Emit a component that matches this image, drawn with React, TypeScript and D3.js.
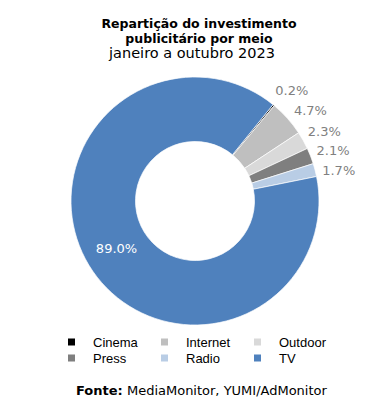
import { useEffect, useRef } from 'react'
import * as d3 from 'd3'

const categories = ['Cinema', 'Internet', 'Outdoor', 'Press', 'Radio', 'TV']
const shares = [0.2, 4.7, 2.3, 2.1, 1.7, 89.0]
const colors = ['#000000', '#bfbfbf', '#d9d9d9', '#7f7f7f', '#b9cde5', '#4f81bd']
const titleLines = ['Repartição do investimento', 'publicitário por meio']
const subtitle = 'janeiro a outubro 2023'

type Slice = { name: string; value: number; color: string }

export default () => {
  const rootRef = useRef<SVGSVGElement>(null)

  useEffect(() => {
    const width = 391,
      height = 406
    const cx = 195,
      cy = 201
    const outerR = 124,
      innerR = 59.5

    const data: Slice[] = categories.map((c, i) => ({ name: c, value: shares[i], color: colors[i] }))

    const svg = d3.select(rootRef.current).attr('width', width).attr('height', height)
    svg.selectAll('*').remove()

    const font = 'Verdana, "DejaVu Sans", sans-serif'

    // titles
    const title = svg.append('g').attr('text-anchor', 'middle').style('font-family', font)
    titleLines.forEach((t, i) => {
      title
        .append('text')
        .attr('x', 199)
        .attr('y', 27.5 + i * 15)
        .attr('font-weight', 'bold')
        .style('font-size', '12.5px')
        .text(t)
    })
    title.append('text').attr('x', 192).attr('y', 57.5).style('font-size', '14.5px').text(subtitle)

    // donut
    const startA = (39 * Math.PI) / 180
    const pie = d3
      .pie<Slice>()
      .value((d) => d.value)
      .sort(null)
      .startAngle(startA)
      .endAngle(startA + 2 * Math.PI)
    const arcs = pie(data)
    const arc = d3.arc<d3.PieArcDatum<Slice>>().innerRadius(innerR).outerRadius(outerR)

    const g = svg.append('g').attr('transform', `translate(${cx},${cy})`)
    g.selectAll('path')
      .data(arcs)
      .join('path')
      .attr('d', arc)
      .attr('fill', (d) => d.data.color)
      .attr('stroke', '#ffffff')
      .attr('stroke-width', 0.7)

    // outside labels for small slices
    const labelR = 143
    const small = arcs.filter((d) => d.data.value < 50)
    const pos = small.map((d) => {
      const a = (d.startAngle + d.endAngle) / 2
      return { d, x: labelR * Math.sin(a), y: -labelR * Math.cos(a) }
    })
    for (let i = 1; i < pos.length; i++) {
      if (pos[i].y - pos[i - 1].y < 19.5) pos[i].y = pos[i - 1].y + 19.5
    }
    // keep labels off the ring after shifting them down
    pos.forEach((p) => {
      const need = Math.sqrt(Math.max(0, (labelR + 4) ** 2 - p.y * p.y))
      if (p.x < need) p.x = need
    })
    g.selectAll('text.out')
      .data(pos)
      .join('text')
      .attr('class', 'out')
      .attr('x', (p) => p.x)
      .attr('y', (p) => p.y)
      .attr('dy', '0.35em')
      .attr('text-anchor', 'middle')
      .style('font-family', font)
      .style('font-size', '13px')
      .attr('fill', '#808080')
      .text((p) => p.d.data.value.toFixed(1) + '%')

    // big slice label inside
    const big = arcs.filter((d) => d.data.value >= 50)
    g.selectAll('text.in')
      .data(big)
      .join('text')
      .attr('class', 'in')
      .attr('transform', (d) => `translate(${arc.centroid(d)})`)
      .attr('dy', '0.35em')
      .attr('text-anchor', 'middle')
      .style('font-family', font)
      .style('font-size', '13px')
      .attr('fill', '#ffffff')
      .text((d) => d.data.value.toFixed(1) + '%')

    // legend
    const legend = svg.append('g').style('font-family', 'Arial, "Liberation Sans", sans-serif').style('font-size', '13px')
    const colX = [68, 161, 254]
    const rowY = [342, 358]
    data.forEach((d, i) => {
      const x = colX[i % 3]
      const y = rowY[Math.floor(i / 3)]
      legend.append('rect').attr('x', x).attr('y', y - 3.5).attr('width', 7).attr('height', 7).attr('fill', d.color)
      legend.append('text').attr('x', x + 25).attr('y', y).attr('dy', '0.35em').text(d.name)
    })

    // source
    const src = svg.append('text').attr('x', 76).attr('y', 395).style('font-family', font).style('font-size', '13px')
    src.append('tspan').attr('font-weight', 'bold').text('Fonte:')
    src.append('tspan').text(' MediaMonitor, YUMI/AdMonitor')
  }, [])

  return <svg ref={rootRef} style={{ position: 'absolute', left: 0, top: 0, background: '#ffffff' }}></svg>
}
